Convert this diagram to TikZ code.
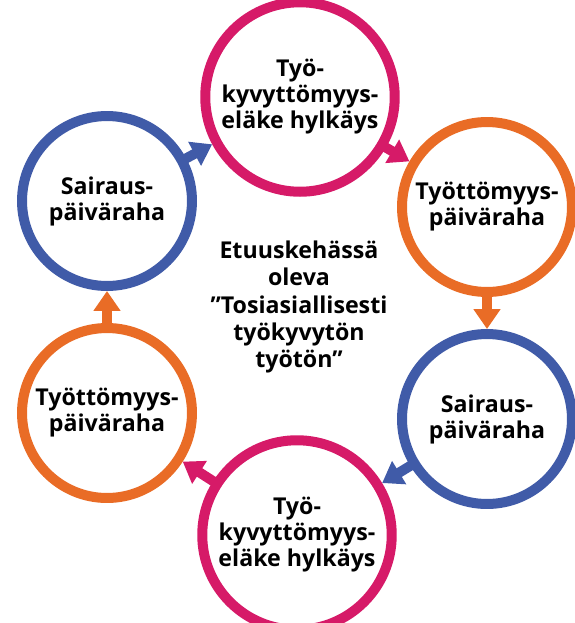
\documentclass[tikz,border=0pt]{standalone}
\usepackage{fontspec}
\setmainfont{Open Sans}
\usetikzlibrary{arrows.meta}
\definecolor{pinkc}{RGB}{214,26,104}
\definecolor{orangec}{RGB}{233,108,38}
\definecolor{bluec}{RGB}{64,91,168}

\begin{document}
\begin{tikzpicture}[x=0.02cm,y=-0.02cm,
  crc/.style={circle,draw=#1,line width=0.2cm,fill=white,minimum size=3.4cm,
              align=center,font=\bfseries\fontsize{13.2}{14.8}\selectfont},
  arr/.style={-{Triangle[width=0.52cm,length=0.4cm]},line width=0.2cm,
              draw=#1,shorten <=-0.12cm}
]
\useasboundingbox (0,0) rectangle (575,623);
\clip (0,0) rectangle (575,623);

\node[crc=bluec] (sp1) at (107,201) {Sairaus-\\päiväraha};
\node[crc=pinkc] (tk1) at (300,97) {Työ-\\kyvyttömyys-\\eläke hylkäys};
\node[crc=orangec] (tt1) at (487,207) {Työttömyys-\\päiväraha};
\node[crc=bluec] (sp2) at (487,419) {Sairaus-\\päiväraha};
\node[crc=pinkc] (tk2) at (297,535) {Työ-\\kyvyttömyys-\\eläke hylkäys};
\node[crc=orangec] (tt2) at (107,413) {Työttömyys-\\päiväraha};

\draw[arr=bluec] (sp1) -- (tk1);
\draw[arr=pinkc] (tk1) -- (tt1);
\draw[arr=orangec] (tt1) -- (sp2);
\draw[arr=bluec] (sp2) -- (tk2);
\draw[arr=pinkc] (tk2) -- (tt2);
\draw[arr=orangec] (tt2) -- (sp1);

\node[align=center,font=\bfseries\fontsize{13.2}{15.4}\selectfont] (mid) at (299,307)
  {Etuuskehässä\\oleva\\”Tosiasiallisesti\\työkyvytön\\työtön”};
\end{tikzpicture}
\end{document}
